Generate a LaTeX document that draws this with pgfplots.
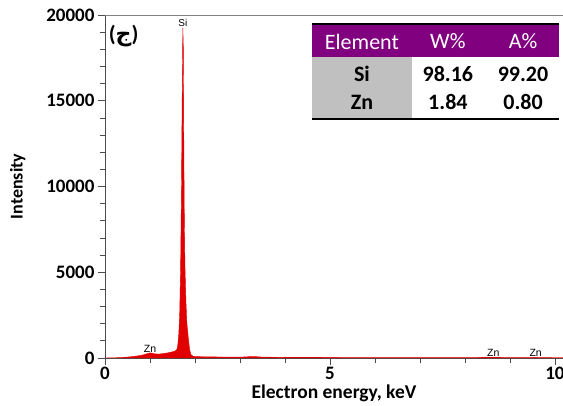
\documentclass[border=0pt]{standalone}
\usepackage{pgfplots}
\pgfplotsset{compat=1.18}
\usepackage{fontspec}
\setmainfont{Carlito}
\newfontfamily\lsans{Liberation Sans}
\newfontfamily\arabicfont[Script=Arabic]{DejaVu Sans}
\TeXXeTstate=1
\definecolor{hdr}{RGB}{128,0,128}
\definecolor{cellgray}{RGB}{192,192,192}
\definecolor{spec}{RGB}{224,0,0}
\begin{document}
\begin{tikzpicture}
\begin{axis}[
  scale only axis, width=458pt, height=343pt,
  xmin=0, xmax=10.178, ymin=0, ymax=20000,
  axis x line*=bottom, axis y line*=left,
  axis line style={draw=black!70, line width=0.8pt},
  xtick={0,5,10}, minor xtick={1,2,3,4,6,7,8,9},
  ytick={0,5000,10000,15000,20000},
  minor ytick={1000,2000,3000,4000,6000,7000,8000,9000,11000,12000,13000,14000,16000,17000,18000,19000},
  tick align=outside,
  major tick length=7pt, minor tick length=5pt,
  every tick/.style={black!70, line width=0.7pt},
  scaled ticks=false,
  /pgf/number format/assume math mode=true,
  /pgf/number format/1000 sep={},
  tick label style={font=\fontsize{19}{20}\selectfont\bfseries},
  xticklabel style={yshift=1pt},
  xlabel={Electron energy, keV}, ylabel={Intensity},
  xlabel style={font=\fontsize{19.5}{21}\selectfont\bfseries, at={(axis description cs:0.5,0)}, anchor=north, inner sep=0pt, yshift=-27pt},
  ylabel style={font=\fontsize{18}{20}\selectfont\bfseries, at={(axis description cs:0,0.5)}, anchor=south, yshift=76pt},
  clip=false,
]
\addplot[draw=spec, fill=spec, line width=0.4pt] coordinates {
(0.0,0) (0.2,10) (0.4,30) (0.6,80) (0.8,150) (0.9,220) (1.0,300) (1.05,280)
(1.1,240) (1.2,230) (1.3,260) (1.4,300) (1.5,360) (1.55,400) (1.6,500)
(1.62,800) (1.64,1400) (1.66,2600) (1.68,5200) (1.70,10000) (1.71,13500)
(1.72,16500) (1.73,19250) (1.74,18200) (1.75,13200) (1.76,9000) (1.77,6500)
(1.78,5000) (1.80,3200) (1.82,2000) (1.85,1200) (1.88,500) (1.91,200)
(1.95,110) (2.0,80) (2.5,60) (3.0,50) (3.3,90) (3.5,50) (4.0,40) (5.0,30)
(6.0,25) (7.0,20) (8.0,20) (8.63,40) (9.0,20) (9.57,30) (10.0,15) (10.178,15)
} \closedcycle;
\node[anchor=south, font=\lsans\fontsize{10}{11}\selectfont, inner sep=1pt] at (axis cs:1.73,19250) {Si};
\node[anchor=south, font=\lsans\fontsize{10.5}{11}\selectfont, inner sep=1pt] at (axis cs:1.0,250) {Zn};
\node[anchor=south, font=\lsans\fontsize{10.5}{11}\selectfont, inner sep=1pt] at (axis cs:8.63,40) {Zn};
\node[anchor=south, font=\lsans\fontsize{10.5}{11}\selectfont, inner sep=1pt] at (axis cs:9.57,40) {Zn};
% top frame line
\draw[black!50, line width=0.9pt] (axis cs:0,20000) -- (axis cs:10.178,20000);
% panel label
\node[anchor=west, font=\fontsize{22}{24}\selectfont\bfseries, inner sep=0pt] at (axis cs:0.08,18750) {({\arabicfont\bfseries\beginR ج\endR})};
% table
\fill[hdr] (axis cs:4.6,19475) rectangle (axis cs:10.09,17551);
\fill[cellgray] (axis cs:4.6,17551) rectangle (axis cs:6.82,13936);
\draw[black, line width=1.6pt] (axis cs:4.6,19475) -- (axis cs:10.09,19475);
\draw[black, line width=1.6pt] (axis cs:4.6,13936) -- (axis cs:10.09,13936);
\node[text=white, font=\fontsize{22}{24}\selectfont] at (axis cs:5.71,18450) {Element};
\node[text=white, font=\fontsize{22}{24}\selectfont] at (axis cs:7.62,18450) {W\%};
\node[text=white, font=\fontsize{22}{24}\selectfont] at (axis cs:9.29,18450) {A\%};
\node[font=\fontsize{22}{24}\selectfont\bfseries] at (axis cs:5.71,16560) {Si};
\node[font=\fontsize{22}{24}\selectfont\bfseries] at (axis cs:7.62,16560) {98.16};
\node[font=\fontsize{22}{24}\selectfont\bfseries] at (axis cs:9.29,16560) {99.20};
\node[font=\fontsize{22}{24}\selectfont\bfseries] at (axis cs:5.71,14927) {Zn};
\node[font=\fontsize{22}{24}\selectfont\bfseries] at (axis cs:7.62,14927) {1.84};
\node[font=\fontsize{22}{24}\selectfont\bfseries] at (axis cs:9.29,14927) {0.80};
\end{axis}
\pgfresetboundingbox
\useasboundingbox (-105pt,-48pt) rectangle (458pt,358pt);
\end{tikzpicture}
\end{document}
